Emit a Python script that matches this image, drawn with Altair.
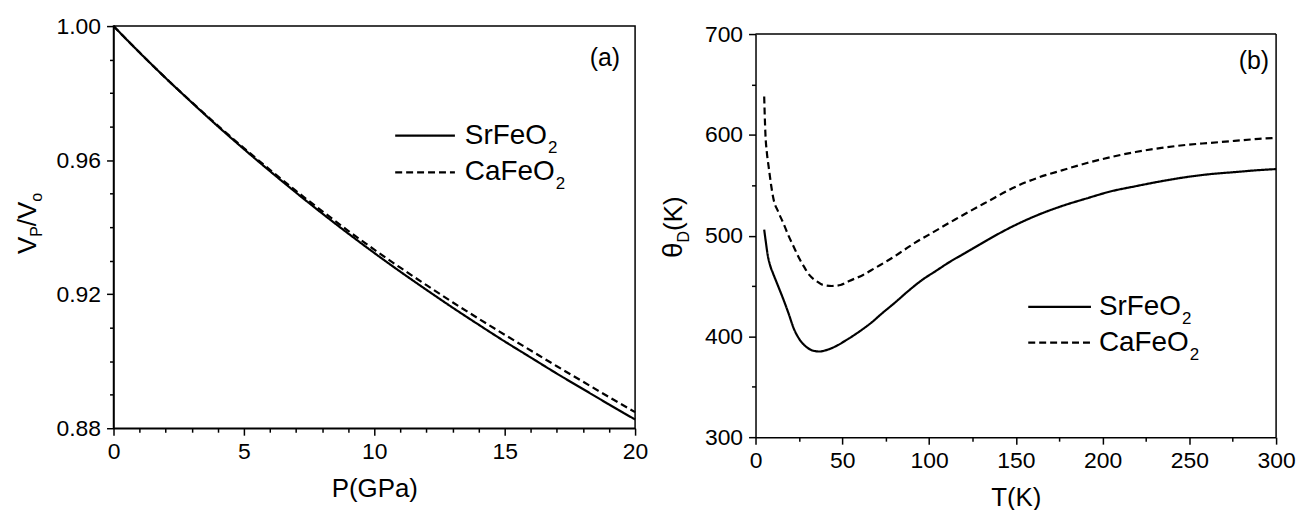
import altair as alt
import pandas as pd

FONT = "Liberation Sans"

# ---------------- data: panel (a) ----------------
P_GPA = [0, 1, 2, 3, 4, 5, 6, 7, 8, 9, 10, 11, 12, 13, 14, 15, 16, 17, 18, 19, 20]
V_SR = [1.0000, 0.9921, 0.9845, 0.9772, 0.9701, 0.9633, 0.9567, 0.9503, 0.9441, 0.9381, 0.9323,
        0.9267, 0.9213, 0.9160, 0.9109, 0.9059, 0.9011, 0.8963, 0.8917, 0.8871, 0.8826]
V_CA = [1.0000, 0.9921, 0.9845, 0.9773, 0.9703, 0.9636, 0.9571, 0.9508, 0.9448, 0.9389, 0.9333,
        0.9279, 0.9227, 0.9176, 0.9127, 0.9079, 0.9032, 0.8985, 0.8939, 0.8893, 0.8848]

# ---------------- data: panel (b) ----------------
T_SR = [5, 6, 7, 8.5, 10, 13, 16, 19, 22, 25, 28, 31, 34, 37, 40, 46, 52, 60, 67, 73, 80, 88,
        96, 104, 112, 119, 127, 134, 148, 162, 176, 191, 205, 219, 234, 248, 262, 276, 290, 300]
TH_SR = [506, 493, 481, 470, 463, 450, 437, 423, 408, 398, 391.5, 387.5, 385.5, 385, 386, 390,
         396, 405, 414, 423, 433, 445, 456, 465, 474, 481, 489, 496, 509, 520, 529, 537, 544,
         549, 554, 558, 561, 563, 565, 566]
T_CA = [5, 5.3, 5.7, 6.5, 7.6, 9, 10.4, 13, 16, 19, 22, 25, 28, 31, 35, 39, 44, 49, 54, 62, 69,
        77, 85, 92, 100, 115, 134, 148, 162, 177, 191, 205, 219, 234, 248, 262, 276, 290, 300]
TH_CA = [638, 620, 601, 583, 568, 550, 536, 524, 512.5, 500, 489, 478, 469, 461, 455, 451, 450,
         451, 455, 461, 468, 476, 485, 493, 501, 516, 534, 547, 557, 565, 572, 578, 583, 587,
         590, 592, 594, 596, 597]

SERIES = ["SrFeO2", "CaFeO2"]
DASHES = [[1, 0], [7, 4]]

P_TICKS = list(range(0, 21))
V_TICKS = [0.88, 0.89, 0.90, 0.91, 0.92, 0.93, 0.94, 0.95, 0.96, 0.97, 0.98, 0.99, 1.00]
T_TICKS = list(range(0, 301, 25))
TH_TICKS = list(range(300, 701, 50))

W_A, H_A = 524, 404
W_B, H_B = 523, 405
OFF_B = 8  # panel (b) frame sits lower than panel (a)

dash = alt.StrokeDash("series:N", scale=alt.Scale(domain=SERIES, range=DASHES), legend=None)

# Liberation Sans advance widths (per 1000 em) to place subscripts
ADV = {"S": 667, "r": 333, "F": 611, "e": 556, "O": 778, "C": 722, "a": 556}


def txt(s, x, y, size, angle=0, align="left", baseline="middle"):
    return alt.Chart(pd.DataFrame({"a": [0]})).mark_text(
        text=s, fontSize=size, angle=angle, align=align, baseline=baseline,
        font=FONT, color="black"
    ).encode(x=alt.value(x), y=alt.value(y))


def legend(series_name, main, x1, x2, y, xt, size=28):
    w = sum(ADV[c] for c in main) * size / 1000.0
    rule = alt.Chart(pd.DataFrame({"series": [series_name]})).mark_rule(
        color="black", strokeWidth=2.2
    ).encode(x=alt.value(x1), x2=alt.value(x2), y=alt.value(y), strokeDash=dash)
    return [rule, txt(main, xt, y, size), txt("2", xt + w + 1, y + 12, 17)]


def hrule(x1, x2, y):
    return alt.Chart(pd.DataFrame({"a": [0]})).mark_rule(color="black", strokeWidth=1.5).encode(
        x=alt.value(x1), x2=alt.value(x2), y=alt.value(y))


def vrule(x, y1, y2):
    return alt.Chart(pd.DataFrame({"a": [0]})).mark_rule(color="black", strokeWidth=1.5).encode(
        x=alt.value(x), y=alt.value(y1), y2=alt.value(y2))


# ---------------- panel (a) ----------------
df_a = pd.DataFrame({
    "P": P_GPA + P_GPA,
    "V": V_SR + V_CA,
    "series": ["SrFeO2"] * len(P_GPA) + ["CaFeO2"] * len(P_GPA),
})

axis_xa = alt.Axis(
    values=P_TICKS, labelExpr="datum.value % 5 == 0 ? datum.label : ''",
    tickSize={"condition": {"test": "datum.value % 5 == 0", "value": 7}, "value": 4},
    title="P(GPa)", labelFlush=False, labelOverlap=False, labelPadding=5, titlePadding=13,
)
axis_ya = alt.Axis(
    values=V_TICKS,
    labelExpr="round(datum.value * 100) % 4 == 0 ? format(datum.value, '.2f') : ''",
    tickSize={"condition": {"test": "round(datum.value * 100) % 4 == 0", "value": 7}, "value": 4},
    title=None, labelFlush=False, labelOverlap=False, labelPadding=6,
)

lines_a = alt.Chart(df_a).mark_line(color="black", strokeWidth=2.2, interpolate="monotone").encode(
    x=alt.X("P:Q", scale=alt.Scale(domain=[0, 20], nice=False, zero=False), axis=axis_xa),
    y=alt.Y("V:Q", scale=alt.Scale(domain=[0.88, 1.0], nice=False, zero=False), axis=axis_ya),
    strokeDash=dash,
)

ytitle_a = [
    txt("V", -86, 229, 26, angle=270),
    txt("P", -77, 211.7, 16, angle=270),
    txt("/", -86, 201, 26, angle=270),
    txt("V", -86, 193.8, 26, angle=270),
    txt("o", -77, 176.5, 16, angle=270),
]

panel_a = alt.layer(
    lines_a,
    *legend("SrFeO2", "SrFeO", 283, 343, 110, 353),
    *legend("CaFeO2", "CaFeO", 283, 343, 147, 353),
    txt("(a)", 509, 32, 25, align="right"),
    *ytitle_a,
).properties(width=W_A, height=H_A)

# ---------------- panel (b) ----------------
df_b = pd.DataFrame({
    "T": T_SR + T_CA,
    "theta": TH_SR + TH_CA,
    "series": ["SrFeO2"] * len(T_SR) + ["CaFeO2"] * len(T_CA),
})

axis_xb = alt.Axis(
    values=T_TICKS, labelExpr="datum.value % 50 == 0 ? datum.label : ''",
    tickSize={"condition": {"test": "datum.value % 50 == 0", "value": 7}, "value": 4},
    title="T(K)", labelFlush=False, labelOverlap=False, labelPadding=5, titlePadding=13,
)
axis_yb = alt.Axis(
    values=TH_TICKS, labelExpr="datum.value % 100 == 0 ? datum.label : ''",
    tickSize={"condition": {"test": "datum.value % 100 == 0", "value": 7}, "value": 4},
    title=None, labelFlush=False, labelOverlap=False, labelPadding=6,
)

HB_TOT = H_B + OFF_B
lines_b = alt.Chart(df_b).mark_line(color="black", strokeWidth=2.2, interpolate="monotone").encode(
    x=alt.X("T:Q", scale=alt.Scale(domain=[0, 300], nice=False, zero=False), axis=axis_xb),
    y=alt.Y("theta:Q", scale=alt.Scale(domain=[300, 700], nice=False, zero=False,
                                       range=[HB_TOT, OFF_B]), axis=axis_yb),
    strokeDash=dash,
)

o = OFF_B
ytitle_b = [
    txt("θ", -82, 225 + o, 28, angle=270),
    txt("D", -72, 209.4 + o, 16, angle=270),
    txt("(K)", -82, 197.8 + o, 26, angle=270),
]

panel_b = alt.layer(
    lines_b,
    hrule(0, W_B, o),
    vrule(W_B, o, HB_TOT),
    *legend("SrFeO2", "SrFeO", 274, 337, 274 + o, 345),
    *legend("CaFeO2", "CaFeO", 274, 337, 310 + o, 345),
    txt("(b)", 516, 27 + o, 25, align="right"),
    *ytitle_b,
).properties(width=W_B, height=HB_TOT, view=alt.ViewBackground(stroke="transparent"))

chart = alt.hconcat(panel_a, panel_b, spacing=10).properties(
    padding={"left": 6, "top": 5, "right": 0, "bottom": 0}
).configure(font=FONT).configure_view(
    stroke="black", strokeWidth=1.5
).configure_axis(
    labelFont=FONT, labelFontSize=23, labelColor="black",
    titleFont=FONT, titleFontSize=26, titleFontWeight="normal", titleColor="black",
    domainColor="black", domainWidth=1.5, tickColor="black", tickWidth=1.5, grid=False,
)

chart.save("out.html", embed_options={"renderer": "svg", "actions": False})
